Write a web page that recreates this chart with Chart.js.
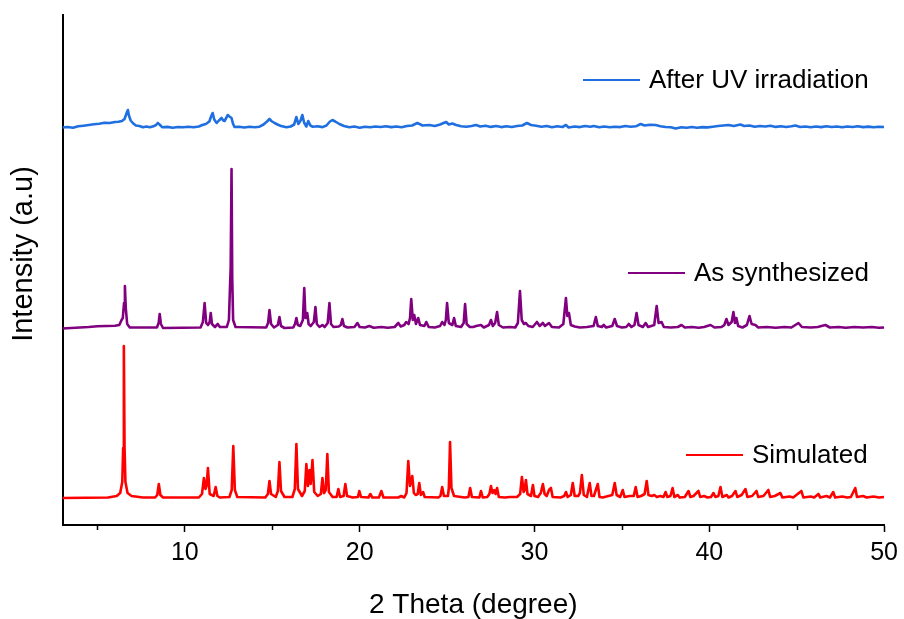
<!DOCTYPE html>
<html>
<head>
<meta charset="utf-8">
<title>XRD patterns</title>
<script src="https://cdn.jsdelivr.net/npm/chart.js@4.4.0/dist/chart.umd.min.js"></script>
<style>
  html, body { margin: 0; padding: 0; background: #fff; }
  #wrap { width: 904px; height: 619px; }
</style>
</head>
<body>
<div id="wrap"><canvas id="xrdChart" width="904" height="619"></canvas></div>
<script>
// 2-theta tick values
const xTicks = [10, 20, 30, 40, 50];
const xMinorTicks = [5, 15, 25, 35, 45];

// [2theta, intensity above the trace's own baseline]
const simulated = [
  [3.0, 0], [5.6, 0.5], [6.1, 2], [6.3, 5], [6.42, 16], [6.47, 50], [6.51, 152], [6.55, 50], [6.6, 16], [6.72, 5], [6.95, 2], [7.6, 0.5],
  [8.3, 0.5], [8.42, 3], [8.51, 14], [8.6, 3], [8.75, 0.5],
  [10.8, 0.5], [10.98, 4], [11.09, 20], [11.18, 9], [11.24, 12], [11.32, 30], [11.42, 4], [11.65, 2], [11.76, 11], [11.86, 2], [12.0, 0.5],
  [12.55, 1], [12.68, 8], [12.77, 52], [12.86, 8], [13.0, 1],
  [14.6, 0.5], [14.75, 4], [14.84, 17], [14.93, 4], [15.2, 1], [15.32, 7], [15.41, 36], [15.5, 7], [15.7, 1],
  [16.15, 1], [16.29, 9], [16.38, 54], [16.47, 9], [16.7, 2], [16.86, 7], [16.95, 34], [17.04, 12], [17.13, 28], [17.2, 14], [17.3, 38], [17.4, 6],
  [17.6, 2], [17.78, 4], [17.87, 20], [17.96, 5], [18.06, 8], [18.15, 44], [18.24, 6], [18.45, 1],
  [18.68, 1], [18.78, 9], [18.88, 1], [19.08, 2], [19.18, 14], [19.28, 2], [19.6, 0.5], [19.9, 1], [19.98, 7], [20.08, 1],
  [20.5, 0.5], [20.61, 4], [20.72, 0.5], [21.1, 0.5], [21.24, 7], [21.36, 0.5],
  [22.2, 0.5], [22.38, 2], [22.55, 0.5], [22.68, 5], [22.78, 37], [22.88, 12], [23.01, 22], [23.1, 5], [23.2, 3], [23.32, 4], [23.41, 15], [23.5, 3],
  [23.63, 6], [23.72, 1], [24.5, 0.5], [24.62, 2], [24.72, 11], [24.82, 2], [25.05, 2], [25.1, 10], [25.17, 56], [25.25, 10], [25.4, 2],
  [25.8, 1], [26.0, 0.5], [26.22, 1], [26.32, 10], [26.42, 1],
  [26.85, 0.5], [26.94, 7], [27.04, 0.5], [27.3, 1], [27.42, 4], [27.51, 12], [27.6, 5], [27.7, 8], [27.78, 4], [27.86, 10], [27.96, 1], [28.3, 0.5],
  [28.6, 1], [29.0, 1], [29.18, 4], [29.28, 21], [29.38, 6], [29.44, 8], [29.51, 18], [29.6, 4], [29.8, 2], [29.91, 13], [30.0, 2], [30.2, 1],
  [30.36, 5], [30.48, 14], [30.58, 4], [30.7, 2], [30.83, 8], [30.94, 10], [31.04, 1],
  [31.5, 0.5], [31.7, 2], [31.8, 6], [31.9, 1], [32.08, 3], [32.19, 15], [32.3, 2], [32.5, 2], [32.6, 5], [32.71, 23], [32.82, 3], [33.0, 1],
  [33.16, 15], [33.26, 2], [33.4, 2], [33.62, 14], [33.72, 1], [33.9, 0.5],
  [34.45, 3], [34.59, 15], [34.7, 3], [34.9, 1], [35.05, 8], [35.15, 1], [35.45, 2], [35.68, 2], [35.79, 11], [35.9, 1], [36.1, 2], [36.3, 4],
  [36.42, 17], [36.52, 3], [36.7, 2], [36.85, 3], [37.0, 1], [37.2, 2], [37.38, 1], [37.5, 6], [37.6, 1], [37.78, 2], [37.9, 10], [38.0, 1],
  [38.2, 3], [38.3, 0.5], [38.6, 1], [38.81, 7], [38.92, 1], [39.1, 2], [39.38, 7], [39.48, 1], [39.7, 2], [39.9, 0.5], [40.1, 1], [40.24, 5],
  [40.35, 1], [40.52, 2], [40.64, 11], [40.75, 1], [41.0, 3], [41.1, 0.5], [41.3, 2], [41.5, 7], [41.6, 1], [41.85, 3], [42.07, 9], [42.18, 1],
  [42.45, 2], [42.7, 7], [42.8, 1], [43.1, 2], [43.38, 8], [43.48, 1], [43.75, 2], [44.07, 5], [44.18, 0.5], [44.6, 1.5], [44.8, 0.5],
  [45.27, 7], [45.38, 0.5], [45.8, 1.5], [46.0, 0.5], [46.24, 4], [46.35, 0.5], [46.7, 2], [46.9, 0.5], [47.09, 6], [47.2, 0.5], [47.6, 1.5],
  [47.9, 0.5], [48.1, 1], [48.35, 10], [48.45, 1], [48.8, 2], [49.0, 0.5], [49.4, 1.5], [49.7, 0.5], [50.0, 1]
];

const asSynthesized = [
  [3.0, -0.5], [3.5, 0], [4.0, 0.5], [4.5, 1], [5.0, 1.8], [5.5, 2], [6.0, 2.2], [6.25, 3], [6.38, 8], [6.45, 10], [6.52, 25], [6.57, 42],
  [6.62, 20], [6.7, 4], [6.85, 0.5],
  [8.4, 0.5], [8.5, 5], [8.56, 14], [8.63, 4], [8.75, 0],
  [10.9, 0.5], [11.03, 6], [11.13, 25], [11.22, 5], [11.32, 3], [11.42, 6], [11.48, 15], [11.55, 4], [11.72, 1], [11.88, 4], [12.0, 1],
  [12.4, 1], [12.52, 8], [12.58, 40], [12.62, 60], [12.67, 159], [12.71, 50], [12.76, 8], [12.9, 1],
  [14.65, 0.5], [14.76, 5], [14.84, 18], [14.93, 4], [15.1, 0.5], [15.32, 3], [15.41, 11], [15.5, 2], [15.7, 0],
  [16.2, 0.5], [16.3, 4], [16.38, 10], [16.46, 3], [16.6, 2], [16.75, 8], [16.83, 40], [16.9, 10], [17.0, 15], [17.08, 4], [17.2, 2],
  [17.38, 6], [17.47, 21], [17.55, 4], [17.7, 1], [17.87, 3], [18.0, 1], [18.17, 5], [18.27, 25], [18.36, 4], [18.5, 1],
  [18.8, 1.5], [18.92, 3], [19.01, 9], [19.1, 2], [19.3, 0.5], [19.7, 1], [19.87, 5], [20.0, 1], [20.3, 0.5], [20.55, 2], [20.8, 0.3],
  [21.24, 1], [21.6, 0.2], [22.0, 1], [22.21, 5], [22.35, 1.5], [22.55, 3], [22.66, 6], [22.8, 4], [22.88, 10], [22.95, 29], [23.04, 8],
  [23.12, 13], [23.22, 4], [23.35, 10], [23.45, 3], [23.7, 2], [23.81, 6], [23.95, 1], [24.3, 0.5], [24.6, 2], [24.72, 6], [24.85, 3],
  [24.93, 8], [25.0, 25], [25.1, 5], [25.3, 3], [25.4, 10], [25.5, 2], [25.8, 1], [25.95, 5], [26.03, 24], [26.12, 4], [26.3, 1],
  [26.5, 1], [26.66, 2], [26.94, 3], [27.1, 0.5], [27.4, 3], [27.51, 8], [27.62, 2], [27.75, 5], [27.86, 16], [27.96, 3], [28.2, 0.5],
  [28.6, 1], [28.9, 0.5], [29.05, 5], [29.17, 37], [29.27, 8], [29.4, 4], [29.51, 5], [29.65, 2], [29.9, 1], [30.14, 6], [30.3, 2],
  [30.48, 5], [30.6, 2], [30.83, 5], [31.0, 1], [31.4, 0.5], [31.65, 4], [31.8, 30], [31.88, 12], [31.97, 15], [32.08, 3], [32.3, 1.5],
  [32.6, 0.5], [33.0, 1], [33.38, 2], [33.51, 11], [33.62, 2], [33.85, 1], [33.96, 3], [34.1, 0.5], [34.45, 2], [34.59, 9], [34.72, 2],
  [35.0, 0.5], [35.25, 1], [35.39, 4], [35.55, 1], [35.72, 3], [35.84, 15], [35.95, 3], [36.2, 1], [36.36, 5], [36.5, 1], [36.85, 3],
  [36.99, 22], [37.1, 5], [37.27, 6], [37.4, 1], [37.8, 0.5], [38.2, 1], [38.41, 3], [38.6, 0.5], [39.0, 1], [39.4, 0.3], [39.7, 1],
  [40.07, 3], [40.3, 0.5], [40.7, 1], [40.86, 3], [40.98, 9], [41.1, 3], [41.28, 6], [41.38, 16], [41.47, 5], [41.55, 10], [41.65, 2],
  [41.9, 0.5], [42.15, 3], [42.3, 12], [42.42, 4], [42.64, 3], [42.8, 0.5], [43.3, 1], [43.8, 0.3], [44.3, 1], [44.7, 0.5], [45.1, 5],
  [45.3, 1], [45.8, 0.5], [46.2, 1], [46.64, 3], [46.9, 0.5], [47.4, 1], [47.8, 0.3], [48.3, 1], [48.8, 0.5], [49.3, 1], [49.7, 0.3], [50.0, 0.5]
];

const afterUV = [
  [3.0, 0], [3.3, 0.5], [3.6, -0.3], [3.9, 1.2], [4.2, 1.8], [4.5, 2.5], [4.8, 3.2], [5.1, 3.8], [5.4, 4.8], [5.7, 4.5], [6.0, 5.5],
  [6.2, 5.8], [6.4, 6.5], [6.55, 8.5], [6.68, 15], [6.74, 17.5], [6.8, 12], [6.9, 7], [7.05, 4], [7.2, 2], [7.4, 1.5], [7.6, 0.3],
  [7.8, 1], [8.0, 0.2], [8.2, 1.2], [8.35, 2.5], [8.45, 4.5], [8.55, 3], [8.7, 0.3], [9.0, 0.6], [9.3, -0.2], [9.6, 0.5], [9.9, 0.2],
  [10.2, 0.8], [10.5, 0.3], [10.8, 1], [11.0, 2.5], [11.2, 3.5], [11.4, 6], [11.52, 12], [11.59, 14.5], [11.68, 8], [11.82, 4.5],
  [11.95, 7], [12.1, 9.5], [12.2, 7], [12.27, 6.5], [12.38, 10], [12.45, 12.5], [12.55, 11], [12.67, 9.5], [12.75, 4], [12.84, 0.5],
  [13.1, 0.8], [13.4, 0], [13.7, 0.8], [14.0, 0.3], [14.27, 0.8], [14.5, 3], [14.7, 6], [14.84, 8.5], [14.95, 6.5], [15.13, 4.5],
  [15.3, 3], [15.5, 1.5], [15.81, 0.2], [16.05, 1], [16.25, 3], [16.38, 10.5], [16.49, 3.5], [16.62, 7], [16.72, 12.5], [16.82, 5],
  [16.95, 1], [17.06, 6.5], [17.18, 2], [17.3, 0.8], [17.6, 1.2], [17.87, 0.4], [18.1, 2], [18.3, 6], [18.44, 7.5], [18.6, 6],
  [18.84, 3.5], [19.1, 1.5], [19.41, 0.3], [19.7, 1], [20.0, -0.2], [20.3, 0.8], [20.6, 0.2], [20.9, 1], [21.2, 0.5], [21.5, 1.2],
  [21.8, 0.4], [22.1, 1], [22.4, 0.3], [22.7, 1.5], [23.0, 2], [23.3, 4.5], [23.6, 2], [23.98, 2.5], [24.3, 1.5], [24.6, 3], [24.8, 4.5],
  [24.95, 5.5], [25.1, 3], [25.3, 4], [25.52, 2.5], [25.8, 1.2], [26.1, 0.8], [26.4, 1.5], [26.66, 2.5], [26.9, 1], [27.2, 1.8],
  [27.5, 0.6], [27.8, 1.5], [28.1, 0.4], [28.4, 1.2], [28.7, 0.5], [29.0, 1.5], [29.3, 2], [29.57, 4.5], [29.8, 2.5], [30.1, 1.8],
  [30.4, 0.8], [30.7, 1.5], [31.0, 0.3], [31.3, 1.2], [31.6, 0.5], [31.8, 2.5], [31.95, 0], [32.3, 1], [32.6, 0.4], [32.9, 1.5],
  [33.2, 0.8], [33.39, 1.5], [33.7, 0.3], [34.0, 1], [34.3, 0.2], [34.6, 0.8], [34.9, 0.4], [35.2, 1.5], [35.5, 0.8], [35.8, 1.2],
  [36.07, 3.5], [36.3, 2], [36.6, 2.8], [36.93, 2.5], [37.2, 1.2], [37.5, 0.5], [37.8, 0.3], [38.07, -1], [38.4, 0.3], [38.7, -0.3],
  [39.0, 0.5], [39.3, -0.2], [39.6, 0.4], [39.9, 0.1], [40.2, 0.8], [40.5, 1.5], [40.8, 2], [41.1, 2.5], [41.4, 1.5], [41.78, 3],
  [42.0, 1.5], [42.3, 2], [42.6, 0.8], [42.9, 1.5], [43.2, 1], [43.5, 1.8], [43.8, 0.6], [44.1, 1.2], [44.4, 0.5], [44.7, 1.2],
  [44.93, 2], [45.2, 0.5], [45.5, 1], [45.8, 0.3], [46.1, 1], [46.4, 0.4], [46.7, 1.2], [47.0, 0.5], [47.3, 1], [47.6, 0.3], [47.9, 1],
  [48.2, 0.5], [48.5, 1.2], [48.8, 0.4], [49.1, 0.9], [49.4, 0.3], [49.7, 0.8], [50.0, 0.5]
];

// stacked traces, each lifted by its own baseline offset
const traces = [
  { label: 'After UV irradiation', points: afterUV, offset: 397.5, color: '#1f6fe0' },
  { label: 'As synthesized', points: asSynthesized, offset: 197, color: '#800080' },
  { label: 'Simulated', points: simulated, offset: 27, color: '#ff0000' }
];

const FONT = "'Liberation Sans', Arial, Helvetica, sans-serif";
Chart.defaults.font.family = FONT;
Chart.defaults.color = '#000';

// legend entries next to each trace, the y caption and the short minor ticks
const xrdExtras = {
  id: 'xrdExtras',
  afterDatasetsDraw(chart, args, opts) {
    const ctx = chart.ctx;
    ctx.save();
    ctx.font = opts.font;
    ctx.textBaseline = 'middle';
    ctx.textAlign = 'left';
    chart.data.datasets.forEach((ds, i) => {
      const p = opts.labelAt[i];
      ctx.strokeStyle = ds.borderColor;
      ctx.lineWidth = 2;
      ctx.beginPath();
      ctx.moveTo(p.x, p.y);
      ctx.lineTo(p.x + 57, p.y);
      ctx.stroke();
      ctx.fillStyle = '#000';
      ctx.fillText(ds.label, p.x + 66, p.y + 1);
    });

    // y caption sits a little above the axis middle
    ctx.save();
    ctx.translate(opts.yCaption.x, opts.yCaption.y);
    ctx.rotate(-Math.PI / 2);
    ctx.textAlign = 'center';
    ctx.font = opts.yCaption.font;
    ctx.fillText(opts.yCaption.text, 0, 0);
    ctx.restore();

    const xs = chart.scales.x;
    const y0 = chart.chartArea.bottom;
    ctx.strokeStyle = '#000';
    ctx.lineWidth = 1.5;
    xMinorTicks.forEach(v => {
      const px = Math.round(xs.getPixelForValue(v)) + 0.5;
      ctx.beginPath();
      ctx.moveTo(px, y0);
      ctx.lineTo(px, y0 + 5);
      ctx.stroke();
    });
    ctx.restore();
  }
};

new Chart(document.getElementById('xrdChart'), {
  type: 'line',
  data: {
    datasets: traces.map(t => ({
      label: t.label,
      data: t.points.map(p => ({ x: p[0], y: p[1] + t.offset })),
      borderColor: t.color,
      borderWidth: 2.6,
      borderJoinStyle: 'round',
      pointRadius: 0,
      tension: 0,
      fill: false
    }))
  },
  plugins: [xrdExtras],
  options: {
    responsive: false,
    animation: false,
    layout: { padding: { top: 15, right: 18, left: 0, bottom: 0 } },
    plugins: {
      legend: { display: false },
      tooltip: { enabled: false },
      xrdExtras: {
        font: '26px ' + FONT,
        labelAt: [{ x: 583, y: 80 }, { x: 628, y: 273 }, { x: 686, y: 455 }],
        yCaption: { text: 'Intensity (a.u)', x: 24, y: 254, font: '29px ' + FONT }
      }
    },
    scales: {
      x: {
        type: 'linear',
        min: 3,
        max: 50,
        afterBuildTicks: s => { s.ticks = xTicks.concat(xMinorTicks).sort((a, b) => a - b).map(v => ({ value: v })); },
        afterFit: s => { s.height = 94; },
        grid: {
          drawOnChartArea: false,
          tickLength: 7,
          tickWidth: 1.5,
          tickColor: c => (c.tick && c.tick.value % 10 === 0) ? '#000' : 'rgba(0,0,0,0)'
        },
        border: { color: '#000', width: 2 },
        ticks: {
          autoSkip: false,
          maxRotation: 0,
          padding: 6,
          font: { size: 25 },
          color: '#000',
          callback: v => (v % 10 === 0 ? String(v) : '')
        },
        title: {
          display: true,
          text: '2 Theta (degree)',
          font: { size: 28, lineHeight: 1.0 },
          color: '#000',
          padding: { top: 0, bottom: 0 }
        }
      },
      y: {
        min: 0,
        max: 510,
        afterFit: s => { s.width = 62.5; },
        grid: { drawOnChartArea: false, drawTicks: false },
        border: { color: '#000', width: 2 },
        ticks: { display: false },
        title: { display: false }
      }
    }
  }
});
</script>
</body>
</html>
